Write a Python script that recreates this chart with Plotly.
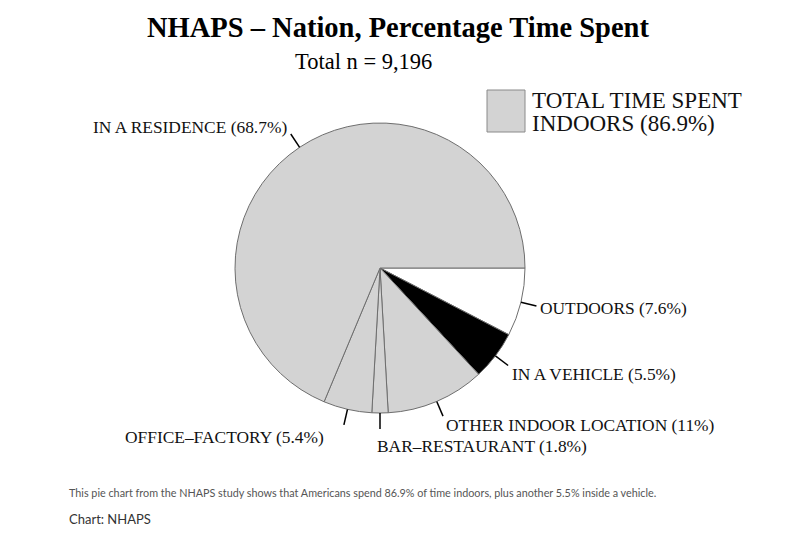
import math
import plotly.graph_objects as go

# ---- data ----
categories = ["OUTDOORS", "IN A VEHICLE", "OTHER INDOOR LOCATION",
              "BAR\u2013RESTAURANT", "OFFICE\u2013FACTORY", "IN A RESIDENCE"]
percent_labels = ["7.6%", "5.5%", "11%", "1.8%", "5.4%", "68.7%"]
values = [7.6, 5.5, 11.0, 1.8, 5.4, 68.7]
indoor_total_lines = ["TOTAL TIME SPENT", "INDOORS (86.9%)"]
title_text = "NHAPS \u2013 Nation, Percentage Time Spent"
subtitle_text = "Total n = 9,196"
caption_text = ("This pie chart from the NHAPS study shows that Americans spend 86.9% "
                "of time indoors, plus another 5.5% inside a vehicle.")
source_text = "Chart: NHAPS"

# ---- style / layout ----
W, H = 800, 537
CX, CY, R = 380, 268, 145
slice_colors = ["#ffffff", "#000000", "#d3d3d3", "#d3d3d3", "#d3d3d3", "#d3d3d3"]
edge_color = "#6e6e6e"
serif = "Liberation Serif, Times New Roman, serif"
sans = "Lato, Open Sans, sans-serif"
label_nudge = {0: (-7, -2), 1: (-5, -2), 2: (-3, -7), 3: (-5, 0),
               4: (-16, -4), 5: (3, 7)}

def px(x):
    return x / W

def py(y):
    return 1 - y / H

fig = go.Figure()
fig.add_trace(go.Pie(
    values=values,
    labels=categories,
    sort=False,
    direction="clockwise",
    rotation=90,
    textinfo="none",
    hoverinfo="skip",
    showlegend=False,
    marker=dict(colors=slice_colors, line=dict(color=edge_color, width=1)),
    domain=dict(x=[px(CX - R), px(CX + R)], y=[py(CY + R), py(CY - R)]),
))

shapes = []
annotations = []
total = sum(values)
cum = 0.0
for i, (cat, v, pl) in enumerate(zip(categories, values, percent_labels)):
    mid = 2 * math.pi * (cum + v / 2) / total
    cum += v
    c, s = math.cos(mid), math.sin(mid)
    shapes.append(dict(type="line", xref="paper", yref="paper",
                       x0=px(CX + R * c), y0=py(CY + R * s),
                       x1=px(CX + (R + 16) * c), y1=py(CY + (R + 16) * s),
                       line=dict(color="#000000", width=1.5)))
    dx, dy = label_nudge.get(i, (0, 0))
    lx = CX + 170 * c + dx
    ly = CY + 178 * s + dy
    annotations.append(dict(xref="paper", yref="paper", x=px(lx), y=py(ly),
                            text=f"{cat} ({pl})", showarrow=False,
                            xanchor="left" if c >= -1e-9 else "right", yanchor="middle",
                            font=dict(family=serif, size=17.4, color="#111111")))

# legend box for indoor total
shapes.append(dict(type="rect", xref="paper", yref="paper",
                   x0=px(487), x1=px(525), y0=py(132), y1=py(90),
                   fillcolor="#d3d3d3", line=dict(color="#8a8a8a", width=1)))
for j, line_txt in enumerate(indoor_total_lines):
    annotations.append(dict(xref="paper", yref="paper", x=px(530), y=py(101 + 23 * j),
                            text=line_txt, showarrow=False, align="left",
                            xanchor="left", yanchor="middle",
                            font=dict(family=serif, size=23, color="#111111")))

# title, subtitle, caption
annotations.append(dict(xref="paper", yref="paper", x=px(398), y=py(27),
                        text=f"<b>{title_text}</b>", showarrow=False,
                        xanchor="center", yanchor="middle",
                        font=dict(family=serif, size=28.5, color="#000000")))
annotations.append(dict(xref="paper", yref="paper", x=px(363), y=py(62),
                        text=subtitle_text, showarrow=False,
                        xanchor="center", yanchor="middle",
                        font=dict(family=serif, size=22.5, color="#000000")))
annotations.append(dict(xref="paper", yref="paper", x=px(67), y=py(492),
                        text=caption_text, showarrow=False,
                        xanchor="left", yanchor="middle",
                        font=dict(family=sans, size=10.8, color="#555555")))
annotations.append(dict(xref="paper", yref="paper", x=px(67), y=py(519),
                        text=source_text, showarrow=False,
                        xanchor="left", yanchor="middle",
                        font=dict(family=sans, size=13, color="#333333")))

fig.update_layout(
    width=W, height=H,
    margin=dict(l=0, r=0, t=0, b=0),
    paper_bgcolor="#ffffff", plot_bgcolor="#ffffff",
    shapes=shapes, annotations=annotations,
)

fig.write_html("out.html", config={"displayModeBar": False})
